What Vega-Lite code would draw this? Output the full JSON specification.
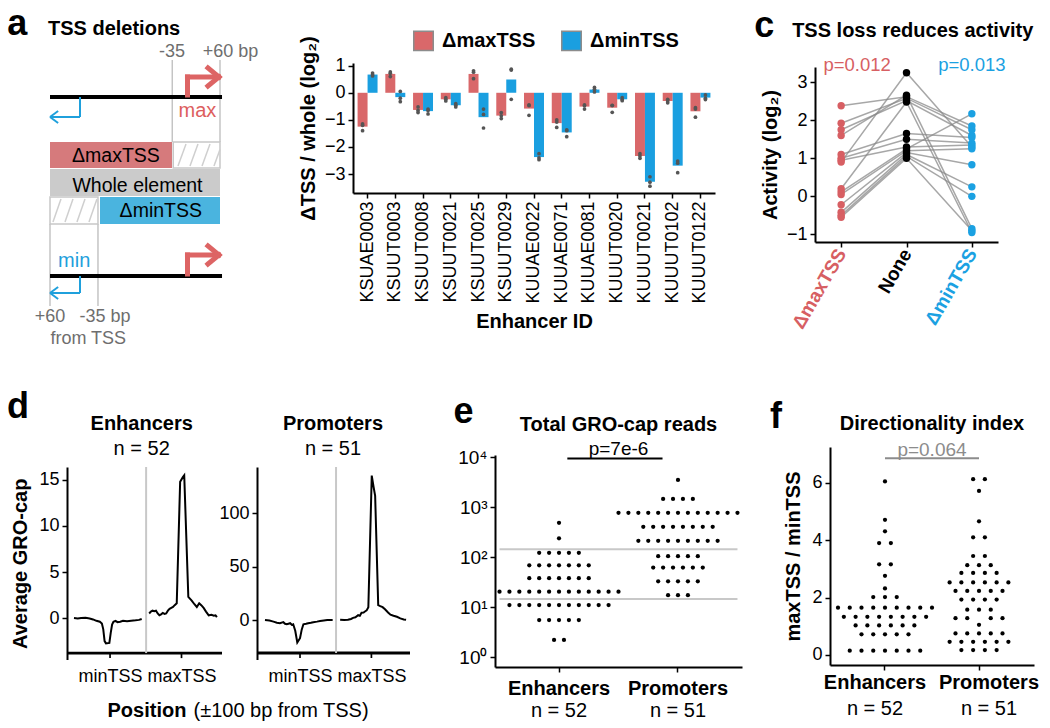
{
"$schema": "https://vega.github.io/schema/vega-lite/v6.json",
"width": 1050, "height": 728,
"autosize": {"type": "none"},
"padding": 0,
"background": "white",
"config": {
  "view": {"stroke": null},
  "font": "Liberation Sans",
  "text": {"font": "Liberation Sans"},
  "axis": {"grid": false, "domainColor": "black", "domainWidth": 2, "tickColor": "black", "tickWidth": 1.5, "tickSize": 5, "labelColor": "black", "labelFont": "Liberation Sans", "labelFontSize": 18, "titleFont": "Liberation Sans", "titleFontSize": 20, "titleFontWeight": "bold", "titleColor": "black", "labelPadding": 3, "labelOverlap": false},
  "legend": {"labelFont": "Liberation Sans"}
},
"resolve": {"scale": {"x": "independent", "y": "independent", "xOffset": "independent", "color": "independent"}, "axis": {"x": "independent", "y": "independent"}, "legend": {"color": "independent"}},
"layer": [
{
 "encoding": {
   "x": {"field": "x", "type": "quantitative", "scale": {"domain": [-375.6, 139.2], "range": [0, 260], "nice": false, "zero": false}, "axis": null},
   "y": {"field": "y", "type": "quantitative", "scale": {"domain": [0, 37], "range": [0, 370], "nice": false, "zero": false}, "axis": null}
 },
 "layer": [
  {"data": {"values": [
     {"part": "maxdel", "x": -276.6, "x2": -35, "y": 14.2, "y2": 16.8},
     {"part": "whole", "x": -276.6, "x2": 60, "y": 16.9, "y2": 19.6},
     {"part": "mindel", "x": -177.6, "x2": 60, "y": 19.7, "y2": 22.4}]},
   "mark": {"type": "rect"},
   "encoding": {"x2": {"field": "x2"}, "y2": {"field": "y2"}, "color": {"field": "part", "type": "nominal", "scale": {"domain": ["maxdel", "whole", "mindel"], "range": ["#d67a7c", "#cbcbcb", "#4ab4df"]}, "legend": null}}},
  {"data": {"values": [{"x": -32.6, "x2": 60, "y": 14.2, "y2": 16.8}, {"x": -276.6, "x2": -181.6, "y": 19.7, "y2": 22.4}]},
   "mark": {"type": "rect", "fill": "white", "stroke": "#c8c8c8", "strokeWidth": 1.5},
   "encoding": {"x2": {"field": "x2"}, "y2": {"field": "y2"}}},
  {"data": {"values": [
     {"x": -23.2, "y": 16.6, "x2": -7.3, "y2": 14.4},
     {"x": 0.6, "y": 16.6, "x2": 16.4, "y2": 14.4},
     {"x": 24.4, "y": 16.6, "x2": 40.2, "y2": 14.4},
     {"x": 48.1, "y": 16.6, "x2": 60, "y2": 14.95},
     {"x": -270.7, "y": 22.2, "x2": -254.9, "y2": 19.9},
     {"x": -246.9, "y": 22.2, "x2": -231.1, "y2": 19.9},
     {"x": -223.2, "y": 22.2, "x2": -207.3, "y2": 19.9},
     {"x": -199.4, "y": 22.2, "x2": -183.6, "y2": 19.9}]},
   "mark": {"type": "rule", "color": "#cfcfcf", "strokeWidth": 1.5},
   "encoding": {"x2": {"field": "x2"}, "y2": {"field": "y2"}}},
  {"data": {"values": [
     {"x": -34.5, "x2": -34.5, "y": 6.0, "y2": 14.2},
     {"x": 60, "x2": 60, "y": 6.0, "y2": 14.2},
     {"x": -276.6, "x2": -276.6, "y": 22.4, "y2": 30.6},
     {"x": -181.6, "x2": -181.6, "y": 22.4, "y2": 30.6}]},
   "mark": {"type": "rule", "color": "#c4c4c4", "strokeWidth": 1.5},
   "encoding": {"x2": {"field": "x2"}, "y2": {"field": "y2"}}},
  {"data": {"values": [
     {"x": -276.6, "x2": 64, "y": 9.7, "y2": 9.7},
     {"x": -276.6, "x2": 64, "y": 27.6, "y2": 27.6}]},
   "mark": {"type": "rule", "color": "black", "strokeWidth": 4},
   "encoding": {"x2": {"field": "x2"}, "y2": {"field": "y2"}}},
  {"data": {"values": [
     {"x": -4.4, "x2": -4.4, "y": 9.5, "y2": 7.7},
     {"x": -4.4, "x2": 57, "y": 7.7, "y2": 7.7},
     {"x": 36.2, "x2": 58, "y": 6.8, "y2": 7.7},
     {"x": 36.2, "x2": 58, "y": 8.6, "y2": 7.7},
     {"x": -4.4, "x2": -4.4, "y": 27.4, "y2": 25.5},
     {"x": -4.4, "x2": 57, "y": 25.5, "y2": 25.5},
     {"x": 36.2, "x2": 58, "y": 24.6, "y2": 25.5},
     {"x": 36.2, "x2": 58, "y": 26.4, "y2": 25.5}]},
   "mark": {"type": "rule", "color": "#dd6464", "strokeWidth": 5, "strokeCap": "square"},
   "encoding": {"x2": {"field": "x2"}, "y2": {"field": "y2"}}},
  {"data": {"values": [
     {"x": -217.2, "x2": -217.2, "y": 9.7, "y2": 11.7},
     {"x": -217.2, "x2": -276.6, "y": 11.7, "y2": 11.7},
     {"x": -260.5, "x2": -276.6, "y": 11.1, "y2": 11.7},
     {"x": -260.5, "x2": -276.6, "y": 12.3, "y2": 11.7},
     {"x": -217.2, "x2": -217.2, "y": 27.6, "y2": 29.3},
     {"x": -217.2, "x2": -276.6, "y": 29.3, "y2": 29.3},
     {"x": -260.5, "x2": -276.6, "y": 28.7, "y2": 29.3},
     {"x": -260.5, "x2": -276.6, "y": 29.9, "y2": 29.3}]},
   "mark": {"type": "rule", "color": "#1fa0dc", "strokeWidth": 2},
   "encoding": {"x2": {"field": "x2"}, "y2": {"field": "y2"}}},
  {"data": {"values": [{"x": -361, "y": 3.5, "t": "a"}]},
   "mark": {"type": "text", "fontSize": 36, "fontWeight": "bold", "align": "left", "baseline": "alphabetic", "color": "black"},
   "encoding": {"text": {"field": "t"}}},
  {"data": {"values": [{"x": -280.6, "y": 3.5, "t": "TSS deletions"}]},
   "mark": {"type": "text", "fontSize": 20, "fontWeight": "bold", "align": "left", "baseline": "alphabetic", "color": "black"},
   "encoding": {"text": {"field": "t"}}},
  {"data": {"values": [
     {"x": -35, "y": 5.67, "t": "-35"},
     {"x": 80.8, "y": 5.67, "t": "+60 bp"},
     {"x": -276.6, "y": 32.2, "t": "+60"},
     {"x": -167.7, "y": 32.2, "t": "-35 bp"},
     {"x": -200.8, "y": 34.4, "t": "from TSS"}]},
   "mark": {"type": "text", "fontSize": 18, "align": "center", "baseline": "alphabetic", "color": "#6e6e6e"},
   "encoding": {"text": {"field": "t"}}},
  {"data": {"values": [{"x": 15.4, "y": 11.67, "t": "max"}]},
   "mark": {"type": "text", "fontSize": 20, "align": "center", "baseline": "alphabetic", "color": "#dd5e5e"},
   "encoding": {"text": {"field": "t"}}},
  {"data": {"values": [{"x": -228.7, "y": 26.7, "t": "min"}]},
   "mark": {"type": "text", "fontSize": 20, "align": "center", "baseline": "alphabetic", "color": "#1fa0dc"},
   "encoding": {"text": {"field": "t"}}},
  {"data": {"values": [
     {"x": -146, "y": 16.2, "t": "ΔmaxTSS"},
     {"x": -103.4, "y": 19.15, "t": "Whole element"},
     {"x": -57.2, "y": 21.7, "t": "ΔminTSS"}]},
   "mark": {"type": "text", "fontSize": 19.5, "align": "center", "baseline": "alphabetic", "color": "black"},
   "encoding": {"text": {"field": "t"}}}
 ]
},
{
 "data": {"values": [
  {"id":"KSUAE0003","c":"ΔmaxTSS","v":-1.15},{"id":"KSUAE0003","c":"ΔmaxTSS","v":-1.2},{"id":"KSUAE0003","c":"ΔmaxTSS","v":-1.4},
  {"id":"KSUAE0003","c":"ΔminTSS","v":0.73},{"id":"KSUAE0003","c":"ΔminTSS","v":0.67},{"id":"KSUAE0003","c":"ΔminTSS","v":0.62},
  {"id":"KSUUT0003","c":"ΔmaxTSS","v":0.77},{"id":"KSUUT0003","c":"ΔmaxTSS","v":0.72},{"id":"KSUUT0003","c":"ΔmaxTSS","v":0.6},
  {"id":"KSUUT0003","c":"ΔminTSS","v":0.05},{"id":"KSUUT0003","c":"ΔminTSS","v":-0.2},{"id":"KSUUT0003","c":"ΔminTSS","v":-0.33},
  {"id":"KSUUT0008","c":"ΔmaxTSS","v":-0.52},{"id":"KSUUT0008","c":"ΔmaxTSS","v":-0.65},{"id":"KSUUT0008","c":"ΔmaxTSS","v":-0.73},
  {"id":"KSUUT0008","c":"ΔminTSS","v":-0.6},{"id":"KSUUT0008","c":"ΔminTSS","v":-0.65},{"id":"KSUUT0008","c":"ΔminTSS","v":-0.78},
  {"id":"KSUUT0021","c":"ΔmaxTSS","v":-0.18},{"id":"KSUUT0021","c":"ΔmaxTSS","v":-0.24},{"id":"KSUUT0021","c":"ΔmaxTSS","v":-0.3},
  {"id":"KSUUT0021","c":"ΔminTSS","v":-0.4},{"id":"KSUUT0021","c":"ΔminTSS","v":-0.46},{"id":"KSUUT0021","c":"ΔminTSS","v":-0.52},
  {"id":"KSUUT0025","c":"ΔmaxTSS","v":0.81},{"id":"KSUUT0025","c":"ΔmaxTSS","v":0.76},{"id":"KSUUT0025","c":"ΔmaxTSS","v":0.52},
  {"id":"KSUUT0025","c":"ΔminTSS","v":-0.6},{"id":"KSUUT0025","c":"ΔminTSS","v":-0.8},{"id":"KSUUT0025","c":"ΔminTSS","v":-1.3},
  {"id":"KSUUT0029","c":"ΔmaxTSS","v":-0.73},{"id":"KSUUT0029","c":"ΔmaxTSS","v":-0.85},{"id":"KSUUT0029","c":"ΔmaxTSS","v":-0.95},
  {"id":"KSUUT0029","c":"ΔminTSS","v":0.87},{"id":"KSUUT0029","c":"ΔminTSS","v":0.84},{"id":"KSUUT0029","c":"ΔminTSS","v":-0.24},
  {"id":"KUUAE0022","c":"ΔmaxTSS","v":-0.45},{"id":"KUUAE0022","c":"ΔmaxTSS","v":-0.47},{"id":"KUUAE0022","c":"ΔmaxTSS","v":-0.83},
  {"id":"KUUAE0022","c":"ΔminTSS","v":-2.25},{"id":"KUUAE0022","c":"ΔminTSS","v":-2.4},{"id":"KUUAE0022","c":"ΔminTSS","v":-2.47},
  {"id":"KUUAE0071","c":"ΔmaxTSS","v":-1.0},{"id":"KUUAE0071","c":"ΔmaxTSS","v":-1.08},{"id":"KUUAE0071","c":"ΔmaxTSS","v":-1.28},
  {"id":"KUUAE0071","c":"ΔminTSS","v":-1.37},{"id":"KUUAE0071","c":"ΔminTSS","v":-1.4},{"id":"KUUAE0071","c":"ΔminTSS","v":-1.62},
  {"id":"KUUAE0081","c":"ΔmaxTSS","v":-0.45},{"id":"KUUAE0081","c":"ΔmaxTSS","v":-0.48},{"id":"KUUAE0081","c":"ΔmaxTSS","v":-0.6},
  {"id":"KUUAE0081","c":"ΔminTSS","v":0.2},{"id":"KUUAE0081","c":"ΔminTSS","v":0.13},{"id":"KUUAE0081","c":"ΔminTSS","v":0.03},
  {"id":"KUUUT0020","c":"ΔmaxTSS","v":-0.46},{"id":"KUUUT0020","c":"ΔmaxTSS","v":-0.47},{"id":"KUUUT0020","c":"ΔmaxTSS","v":-0.72},
  {"id":"KUUUT0020","c":"ΔminTSS","v":-0.18},{"id":"KUUUT0020","c":"ΔminTSS","v":-0.25},{"id":"KUUUT0020","c":"ΔminTSS","v":-0.29},
  {"id":"KUUUT0021","c":"ΔmaxTSS","v":-2.25},{"id":"KUUUT0021","c":"ΔmaxTSS","v":-2.33},{"id":"KUUUT0021","c":"ΔmaxTSS","v":-2.42},
  {"id":"KUUUT0021","c":"ΔminTSS","v":-3.1},{"id":"KUUUT0021","c":"ΔminTSS","v":-3.3},{"id":"KUUUT0021","c":"ΔminTSS","v":-3.45},
  {"id":"KUUUT0102","c":"ΔmaxTSS","v":-0.24},{"id":"KUUUT0102","c":"ΔmaxTSS","v":-0.3},{"id":"KUUUT0102","c":"ΔmaxTSS","v":-0.37},
  {"id":"KUUUT0102","c":"ΔminTSS","v":-2.52},{"id":"KUUUT0102","c":"ΔminTSS","v":-2.6},{"id":"KUUUT0102","c":"ΔminTSS","v":-2.95},
  {"id":"KUUUT0122","c":"ΔmaxTSS","v":-0.55},{"id":"KUUUT0122","c":"ΔmaxTSS","v":-0.6},{"id":"KUUUT0122","c":"ΔmaxTSS","v":-0.9},
  {"id":"KUUUT0122","c":"ΔminTSS","v":-0.08},{"id":"KUUUT0122","c":"ΔminTSS","v":-0.2},{"id":"KUUUT0122","c":"ΔminTSS","v":-0.25}
 ]},
 "encoding": {
  "x": {"field": "id", "type": "nominal", "sort": null, "scale": {"range": [353, 715], "paddingInner": 0.28, "paddingOuter": 0.165}, "axis": {"orient": "bottom", "offset": -535, "labelAngle": -90, "title": "Enhancer ID", "titlePadding": 8, "labelPadding": 3}},
  "xOffset": {"field": "c", "type": "nominal", "scale": {"domain": ["ΔmaxTSS", "ΔminTSS"]}},
  "y": {"field": "v", "type": "quantitative", "scale": {"domain": [-3.7, 1.1], "range": [193, 63], "nice": false}, "axis": {"orient": "left", "offset": -353, "values": [-3, -2, -1, 0, 1], "title": "ΔTSS / whole (log₂)", "titlePadding": 6}}
 },
 "layer": [
  {"mark": {"type": "bar"},
   "encoding": {
    "y": {"aggregate": "mean", "field": "v", "type": "quantitative", "scale": {"domain": [-3.7, 1.1], "range": [193, 63], "nice": false}, "axis": {"orient": "left", "offset": -353, "values": [-3, -2, -1, 0, 1], "title": "ΔTSS / whole (log₂)", "titlePadding": 6}},
    "color": {"field": "c", "type": "nominal", "scale": {"domain": ["ΔmaxTSS", "ΔminTSS"], "range": ["#d9686a", "#1a9fe0"]},
      "legend": {"orient": "none", "legendX": 413, "legendY": 30, "direction": "horizontal", "title": null, "symbolType": "square", "symbolSize": 380, "symbolStrokeColor": "#8c8c8c", "symbolStrokeWidth": 1.5, "symbolOpacity": 1, "labelFontSize": 20, "labelFontWeight": "bold", "labelColor": "black", "labelOffset": 8, "columnPadding": 22, "padding": 0}}
   }},
  {"mark": {"type": "circle", "size": 14, "color": "#555555", "opacity": 1}}
 ]
},
{
 "data": {"values": [
  {"el":1,"c":"ΔmaxTSS","v":2.38},{"el":1,"c":"None","v":2.62},{"el":1,"c":"ΔminTSS","v":1.85},
  {"el":2,"c":"ΔmaxTSS","v":1.92},{"el":2,"c":"None","v":2.58},{"el":2,"c":"ΔminTSS","v":1.75},
  {"el":3,"c":"ΔmaxTSS","v":1.75},{"el":3,"c":"None","v":2.52},{"el":3,"c":"ΔminTSS","v":1.6},
  {"el":4,"c":"ΔmaxTSS","v":1.6},{"el":4,"c":"None","v":2.66},{"el":4,"c":"ΔminTSS","v":-0.85},
  {"el":5,"c":"ΔmaxTSS","v":1.1},{"el":5,"c":"None","v":1.65},{"el":5,"c":"ΔminTSS","v":1.55},
  {"el":6,"c":"ΔmaxTSS","v":1.0},{"el":6,"c":"None","v":1.5},{"el":6,"c":"ΔminTSS","v":1.4},
  {"el":7,"c":"ΔmaxTSS","v":0.95},{"el":7,"c":"None","v":1.3},{"el":7,"c":"ΔminTSS","v":1.35},
  {"el":8,"c":"ΔmaxTSS","v":0.9},{"el":8,"c":"None","v":3.25},{"el":8,"c":"ΔminTSS","v":1.3},
  {"el":9,"c":"ΔmaxTSS","v":0.2},{"el":9,"c":"None","v":2.48},{"el":9,"c":"ΔminTSS","v":-0.95},
  {"el":10,"c":"ΔmaxTSS","v":0.12},{"el":10,"c":"None","v":1.25},{"el":10,"c":"ΔminTSS","v":2.17},
  {"el":11,"c":"ΔmaxTSS","v":0.05},{"el":11,"c":"None","v":1.2},{"el":11,"c":"ΔminTSS","v":1.25},
  {"el":12,"c":"ΔmaxTSS","v":-0.22},{"el":12,"c":"None","v":1.15},{"el":12,"c":"ΔminTSS","v":0.83},
  {"el":13,"c":"ΔmaxTSS","v":-0.42},{"el":13,"c":"None","v":1.1},{"el":13,"c":"ΔminTSS","v":0.25},
  {"el":14,"c":"ΔmaxTSS","v":-0.5},{"el":14,"c":"None","v":1.05},{"el":14,"c":"ΔminTSS","v":0.0},
  {"el":15,"c":"ΔmaxTSS","v":-0.55},{"el":15,"c":"None","v":1.0},{"el":15,"c":"ΔminTSS","v":-0.9}
 ]},
 "encoding": {
  "x": {"field": "c", "type": "nominal", "sort": ["ΔmaxTSS", "None", "ΔminTSS"], "scale": {"type": "point", "domain": ["ΔmaxTSS", "None", "ΔminTSS"], "range": [815, 998], "padding": 0.4},
        "axis": {"orient": "bottom", "offset": -486, "labelAngle": -60, "labelFontWeight": "bold", "labelFontSize": 19, "title": null, "labelPadding": 3,
                 "labelColor": {"condition": [{"test": "datum.value === 'ΔmaxTSS'", "value": "#d75f63"}, {"test": "datum.value === 'ΔminTSS'", "value": "#1ba1e2"}], "value": "black"}}},
  "y": {"field": "v", "type": "quantitative", "scale": {"domain": [-1.2, 3.4], "range": [242, 67], "nice": false, "zero": false}, "axis": {"orient": "left", "offset": -815, "values": [-1, 0, 1, 2, 3], "title": "Activity (log₂)", "titlePadding": 6}}
 },
 "layer": [
  {"mark": {"type": "line", "color": "#8a8a8a", "strokeWidth": 1.5, "opacity": 0.75}, "encoding": {"detail": {"field": "el", "type": "nominal"}}},
  {"mark": {"type": "circle", "size": 55, "opacity": 1}, "encoding": {"color": {"field": "c", "type": "nominal", "scale": {"domain": ["ΔmaxTSS", "None", "ΔminTSS"], "range": ["#d75f63", "black", "#1ba1e2"]}, "legend": null}}},
  {"data": {"values": [{"c": "ΔmaxTSS", "v": 3.45, "label": "p=0.012"}]}, "mark": {"type": "text", "fontSize": 18.5, "baseline": "middle", "dx": 16, "color": "#d75f63"}, "encoding": {"text": {"field": "label"}}},
  {"data": {"values": [{"c": "ΔminTSS", "v": 3.45, "label": "p=0.013"}]}, "mark": {"type": "text", "fontSize": 18.5, "baseline": "middle", "dx": 0, "color": "#1ba1e2"}, "encoding": {"text": {"field": "label"}}},
  {"data": {"values": [{"c": "ΔmaxTSS", "v": 4.19, "label": "TSS loss reduces activity"}]}, "mark": {"type": "text", "fontSize": 20, "fontWeight": "bold", "align": "left", "baseline": "alphabetic", "dx": -49, "color": "black"}, "encoding": {"text": {"field": "label"}}},
  {"data": {"values": [{"c": "ΔmaxTSS", "v": 4.19, "label": "c"}]}, "mark": {"type": "text", "fontSize": 36, "fontWeight": "bold", "align": "left", "baseline": "alphabetic", "dx": -87, "color": "black"}, "encoding": {"text": {"field": "label"}}}
 ]
},
{
 "layer": [
  {"data": {"values": [
     {"pos": -126.5, "pos2": 329, "v": -3.95, "v2": -3.65},
     {"pos": -2.5, "pos2": 2.5, "v": -3.8, "v2": -4.35},
     {"pos": 207.5, "pos2": 212.5, "v": -3.8, "v2": -4.35}]},
   "mark": {"type": "rect", "color": "black"},
   "encoding": {
    "x": {"field": "pos", "type": "quantitative", "scale": {"domain": [-126.5, 329], "range": [67, 222], "nice": false, "zero": false}, "axis": null},
    "x2": {"field": "pos2"},
    "y": {"field": "v", "type": "quantitative", "scale": {"domain": [-4.5, 16.4], "range": [659.5, 467], "nice": false, "zero": false}, "axis": null},
    "y2": {"field": "v2"}}},
  {"data": {"values": [
    {"seg":"min","pos":-106,"v":0.0},{"seg":"min","pos":-95,"v":-0.05},{"seg":"min","pos":-85,"v":0.0},{"seg":"min","pos":-72,"v":0.02},{"seg":"min","pos":-60,"v":-0.05},
    {"seg":"min","pos":-50,"v":-0.15},{"seg":"min","pos":-40,"v":-0.3},{"seg":"min","pos":-30,"v":-0.4},{"seg":"min","pos":-24,"v":-0.6},{"seg":"min","pos":-20,"v":-1.2},
    {"seg":"min","pos":-16,"v":-2.5},{"seg":"min","pos":-12,"v":-2.75},{"seg":"min","pos":-2,"v":-2.7},{"seg":"min","pos":2,"v":-1.6},{"seg":"min","pos":6,"v":-0.7},
    {"seg":"min","pos":10,"v":-0.4},{"seg":"min","pos":16,"v":-0.3},{"seg":"min","pos":22,"v":-0.45},{"seg":"min","pos":30,"v":-0.4},{"seg":"min","pos":38,"v":-0.3},
    {"seg":"min","pos":50,"v":-0.35},{"seg":"min","pos":62,"v":-0.3},{"seg":"min","pos":75,"v":-0.25},{"seg":"min","pos":85,"v":-0.2},{"seg":"min","pos":93,"v":-0.1},
    {"seg":"max","pos":115,"v":0.5},{"seg":"max","pos":120,"v":0.7},{"seg":"max","pos":125,"v":0.8},{"seg":"max","pos":130,"v":0.75},{"seg":"max","pos":135,"v":0.8},
    {"seg":"max","pos":140,"v":0.5},{"seg":"max","pos":145,"v":0.3},{"seg":"max","pos":150,"v":0.4},{"seg":"max","pos":155,"v":0.55},{"seg":"max","pos":160,"v":0.45},
    {"seg":"max","pos":165,"v":0.5},{"seg":"max","pos":170,"v":0.8},{"seg":"max","pos":175,"v":1.0},{"seg":"max","pos":180,"v":1.1},{"seg":"max","pos":185,"v":1.2},
    {"seg":"max","pos":190,"v":1.4},{"seg":"max","pos":196,"v":1.6},{"seg":"max","pos":206,"v":14.8},{"seg":"max","pos":214,"v":15.3},{"seg":"max","pos":218,"v":15.5},
    {"seg":"max","pos":230,"v":2.3},{"seg":"max","pos":240,"v":1.9},{"seg":"max","pos":248,"v":1.5},{"seg":"max","pos":255,"v":1.2},{"seg":"max","pos":262,"v":1.6},
    {"seg":"max","pos":268,"v":1.4},{"seg":"max","pos":275,"v":1.1},{"seg":"max","pos":282,"v":0.7},{"seg":"max","pos":290,"v":0.3},{"seg":"max","pos":298,"v":0.35},
    {"seg":"max","pos":305,"v":0.25},{"seg":"max","pos":310,"v":0.3},{"seg":"max","pos":314,"v":0.1}
   ]},
   "mark": {"type": "line", "color": "black", "strokeWidth": 2},
   "encoding": {
    "x": {"field": "pos", "type": "quantitative", "scale": {"domain": [-126.5, 329], "range": [67, 222], "nice": false, "zero": false},
          "axis": {"orient": "bottom", "offset": -75, "values": [0, 210], "labelExpr": "datum.value == 0 ? 'minTSS' : 'maxTSS'", "labelPadding": 14, "title": null, "domain": false, "ticks": false}},
    "y": {"field": "v", "type": "quantitative", "scale": {"domain": [-4.5, 16.4], "range": [659.5, 467], "nice": false, "zero": false},
          "axis": {"orient": "left", "offset": -67, "values": [0, 5, 10, 15], "title": "Average GRO-cap", "titlePadding": 8}},
    "detail": {"field": "seg", "type": "nominal"}}},
  {"data": {"values": [{"pos": 106, "v": -3.8, "v2": 16.4}]}, "mark": {"type": "rule", "color": "#c8c8c8", "strokeWidth": 2},
   "encoding": {
    "x": {"field": "pos", "type": "quantitative", "scale": {"domain": [-126.5, 329], "range": [67, 222], "nice": false, "zero": false},
          "axis": {"orient": "bottom", "offset": -75, "domain": false, "ticks": false, "labels": false, "title": "Position", "titleX": 107, "titleAlign": "left", "titleBaseline": "top", "titlePadding": 47}},
    "y": {"field": "v", "type": "quantitative", "scale": {"domain": [-4.5, 16.4], "range": [659.5, 467], "nice": false, "zero": false}, "axis": null},
    "y2": {"field": "v2"}}},
  {"data": {"values": [{"pos": 93, "v": 20.4, "label": "Enhancers"}]}, "mark": {"type": "text", "fontSize": 20, "fontWeight": "bold", "align": "center", "baseline": "alphabetic", "color": "black"},
   "encoding": {"x": {"field": "pos", "type": "quantitative", "scale": {"domain": [-126.5, 329], "range": [67, 222], "nice": false, "zero": false}, "axis": null}, "y": {"field": "v", "type": "quantitative", "scale": {"domain": [-4.5, 16.4], "range": [659.5, 467], "nice": false, "zero": false}, "axis": null}, "text": {"field": "label"}}},
  {"data": {"values": [{"pos": 93, "v": 17.7, "label": "n = 52"}]}, "mark": {"type": "text", "fontSize": 20, "align": "center", "baseline": "alphabetic", "color": "black"},
   "encoding": {"x": {"field": "pos", "type": "quantitative", "scale": {"domain": [-126.5, 329], "range": [67, 222], "nice": false, "zero": false}, "axis": null}, "y": {"field": "v", "type": "quantitative", "scale": {"domain": [-4.5, 16.4], "range": [659.5, 467], "nice": false, "zero": false}, "axis": null}, "text": {"field": "label"}}},
  {"data": {"values": [{"pos": -303, "v": 21.7, "label": "d"}]}, "mark": {"type": "text", "fontSize": 36, "fontWeight": "bold", "align": "left", "baseline": "alphabetic", "color": "black"},
   "encoding": {"x": {"field": "pos", "type": "quantitative", "scale": {"domain": [-126.5, 329], "range": [67, 222], "nice": false, "zero": false}, "axis": null}, "y": {"field": "v", "type": "quantitative", "scale": {"domain": [-4.5, 16.4], "range": [659.5, 467], "nice": false, "zero": false}, "axis": null}, "text": {"field": "label"}}}
 ],
 "resolve": {"axis": {"x": "independent", "y": "independent"}}
},
{
 "layer": [
  {"data": {"values": [
     {"pos": -126.5, "pos2": 323.5, "v": -32.2, "v2": -29.4},
     {"pos": -2.5, "pos2": 2.5, "v": -30.8, "v2": -35.5},
     {"pos": 207.5, "pos2": 212.5, "v": -30.8, "v2": -35.5}]},
   "mark": {"type": "rect", "color": "black"},
   "encoding": {
    "x": {"field": "pos", "type": "quantitative", "scale": {"domain": [-126.5, 323.5], "range": [257, 410], "nice": false, "zero": false}, "axis": null},
    "x2": {"field": "pos2"},
    "y": {"field": "v", "type": "quantitative", "scale": {"domain": [-36.9, 143], "range": [659.5, 467], "nice": false, "zero": false}, "axis": null},
    "y2": {"field": "v2"}}},
  {"data": {"values": [
    {"seg":"min","pos":-103,"v":0},{"seg":"min","pos":-90,"v":-0.5},{"seg":"min","pos":-78,"v":-1.5},{"seg":"min","pos":-68,"v":-2.5},{"seg":"min","pos":-59,"v":-3},
    {"seg":"min","pos":-49,"v":-2},{"seg":"min","pos":-44,"v":-3.5},{"seg":"min","pos":-39,"v":-4},{"seg":"min","pos":-34,"v":-3.5},{"seg":"min","pos":-29,"v":-3},
    {"seg":"min","pos":-24,"v":-4.5},{"seg":"min","pos":-20,"v":-4},{"seg":"min","pos":-14,"v":-10},{"seg":"min","pos":-8,"v":-21},{"seg":"min","pos":0,"v":-17},
    {"seg":"min","pos":5,"v":-9},{"seg":"min","pos":10,"v":-4},{"seg":"min","pos":18,"v":-3.5},{"seg":"min","pos":24,"v":-3},{"seg":"min","pos":32,"v":-2.5},
    {"seg":"min","pos":39,"v":-2},{"seg":"min","pos":50,"v":-1.5},{"seg":"min","pos":59,"v":-1},{"seg":"min","pos":70,"v":-0.5},{"seg":"min","pos":80,"v":0},{"seg":"min","pos":96,"v":0},
    {"seg":"max","pos":118,"v":0.3},{"seg":"max","pos":130,"v":0},{"seg":"max","pos":141,"v":0.2},{"seg":"max","pos":150,"v":1},{"seg":"max","pos":156,"v":2},
    {"seg":"max","pos":163,"v":2.5},{"seg":"max","pos":171,"v":4.5},{"seg":"max","pos":176,"v":4},{"seg":"max","pos":181,"v":6.8},{"seg":"max","pos":187,"v":7},
    {"seg":"max","pos":191,"v":8},{"seg":"max","pos":196,"v":9},{"seg":"max","pos":201,"v":12},{"seg":"max","pos":211,"v":135},{"seg":"max","pos":216,"v":125},
    {"seg":"max","pos":221,"v":116},{"seg":"max","pos":230,"v":14},{"seg":"max","pos":236,"v":13},{"seg":"max","pos":243,"v":12},{"seg":"max","pos":250,"v":10},
    {"seg":"max","pos":259,"v":7},{"seg":"max","pos":266,"v":5},{"seg":"max","pos":275,"v":4},{"seg":"max","pos":285,"v":3},{"seg":"max","pos":295,"v":1.5},
    {"seg":"max","pos":305,"v":0.5},{"seg":"max","pos":312,"v":0.2}
   ]},
   "mark": {"type": "line", "color": "black", "strokeWidth": 2},
   "encoding": {
    "x": {"field": "pos", "type": "quantitative", "scale": {"domain": [-126.5, 323.5], "range": [257, 410], "nice": false, "zero": false},
          "axis": {"orient": "bottom", "offset": -75, "values": [0, 210], "labelExpr": "datum.value == 0 ? 'minTSS' : 'maxTSS'", "labelPadding": 14, "title": null, "domain": false, "ticks": false}},
    "y": {"field": "v", "type": "quantitative", "scale": {"domain": [-36.9, 143], "range": [659.5, 467], "nice": false, "zero": false},
          "axis": {"orient": "left", "offset": -257, "values": [0, 50, 100], "title": null}},
    "detail": {"field": "seg", "type": "nominal"}}},
  {"data": {"values": [{"pos": 106, "v": -30.8, "v2": 143}]}, "mark": {"type": "rule", "color": "#c8c8c8", "strokeWidth": 2},
   "encoding": {
    "x": {"field": "pos", "type": "quantitative", "scale": {"domain": [-126.5, 323.5], "range": [257, 410], "nice": false, "zero": false},
          "axis": {"orient": "bottom", "offset": -75, "domain": false, "ticks": false, "labels": false, "title": "(±100 bp from TSS)", "titleFontWeight": "normal", "titleX": 193, "titleAlign": "left", "titleBaseline": "top", "titlePadding": 47}},
    "y": {"field": "v", "type": "quantitative", "scale": {"domain": [-36.9, 143], "range": [659.5, 467], "nice": false, "zero": false}, "axis": null},
    "y2": {"field": "v2"}}},
  {"data": {"values": [{"pos": 97, "v": 177.6, "label": "Promoters"}]}, "mark": {"type": "text", "fontSize": 20, "fontWeight": "bold", "align": "center", "baseline": "alphabetic", "color": "black"},
   "encoding": {"x": {"field": "pos", "type": "quantitative", "scale": {"domain": [-126.5, 323.5], "range": [257, 410], "nice": false, "zero": false}, "axis": null}, "y": {"field": "v", "type": "quantitative", "scale": {"domain": [-36.9, 143], "range": [659.5, 467], "nice": false, "zero": false}, "axis": null}, "text": {"field": "label"}}},
  {"data": {"values": [{"pos": 97, "v": 154.2, "label": "n = 51"}]}, "mark": {"type": "text", "fontSize": 20, "align": "center", "baseline": "alphabetic", "color": "black"},
   "encoding": {"x": {"field": "pos", "type": "quantitative", "scale": {"domain": [-126.5, 323.5], "range": [257, 410], "nice": false, "zero": false}, "axis": null}, "y": {"field": "v", "type": "quantitative", "scale": {"domain": [-36.9, 143], "range": [659.5, 467], "nice": false, "zero": false}, "axis": null}, "text": {"field": "label"}}}
 ],
 "resolve": {"axis": {"x": "independent", "y": "independent"}}
},
{
 "layer": [
  {"data": {"values": [{"m": 145}, {"m": 14.5}]},
   "mark": {"type": "rule", "color": "#c8c8c8", "strokeWidth": 2},
   "encoding": {
    "x": {"datum": "Enhancers", "type": "nominal", "bandPosition": 0, "scale": {"domain": ["Enhancers", "Promoters"], "range": [495, 742], "paddingInner": 0, "paddingOuter": 0.038},
          "axis": {"orient": "bottom", "offset": -61, "domain": false, "ticks": false, "labelAngle": 0, "labelPadding": 33, "labelFontSize": 20, "labelExpr": "datum.value == 'Enhancers' ? 'n = 52' : 'n = 51'", "title": null}},
    "x2": {"datum": "Promoters", "bandPosition": 1},
    "y": {"field": "m", "type": "quantitative", "scale": {"type": "log", "domain": [0.631, 11220], "range": [667, 455], "nice": false}, "axis": null}
   }},
  {"data": {"values": [
    {"g":"Enhancers","v":490,"s":0},{"g":"Enhancers","v":240,"s":0},
    {"g":"Enhancers","v":123,"s":-2},{"g":"Enhancers","v":123,"s":-1},{"g":"Enhancers","v":123,"s":0},{"g":"Enhancers","v":123,"s":1},{"g":"Enhancers","v":123,"s":2},
    {"g":"Enhancers","v":69,"s":-3},{"g":"Enhancers","v":69,"s":-2},{"g":"Enhancers","v":69,"s":-1},{"g":"Enhancers","v":69,"s":0},{"g":"Enhancers","v":69,"s":1},{"g":"Enhancers","v":69,"s":2},{"g":"Enhancers","v":69,"s":3},
    {"g":"Enhancers","v":38,"s":-3},{"g":"Enhancers","v":38,"s":-2},{"g":"Enhancers","v":38,"s":-1},{"g":"Enhancers","v":38,"s":0},{"g":"Enhancers","v":38,"s":1},{"g":"Enhancers","v":38,"s":2},{"g":"Enhancers","v":38,"s":3},
    {"g":"Enhancers","v":20.4,"s":-6},{"g":"Enhancers","v":20.4,"s":-5},{"g":"Enhancers","v":20.4,"s":-4},{"g":"Enhancers","v":20.4,"s":-3},{"g":"Enhancers","v":20.4,"s":-2},{"g":"Enhancers","v":20.4,"s":-1},{"g":"Enhancers","v":20.4,"s":0},
    {"g":"Enhancers","v":20.4,"s":1},{"g":"Enhancers","v":20.4,"s":2},{"g":"Enhancers","v":20.4,"s":3},{"g":"Enhancers","v":20.4,"s":4},{"g":"Enhancers","v":20.4,"s":5},{"g":"Enhancers","v":20.4,"s":6},
    {"g":"Enhancers","v":11,"s":-5},{"g":"Enhancers","v":11,"s":-4},{"g":"Enhancers","v":11,"s":-3},{"g":"Enhancers","v":11,"s":-2},{"g":"Enhancers","v":11,"s":-1},{"g":"Enhancers","v":11,"s":0},
    {"g":"Enhancers","v":11,"s":1},{"g":"Enhancers","v":11,"s":2},{"g":"Enhancers","v":11,"s":3},{"g":"Enhancers","v":11,"s":4},{"g":"Enhancers","v":11,"s":5},
    {"g":"Enhancers","v":5.5,"s":-2},{"g":"Enhancers","v":5.5,"s":-1},{"g":"Enhancers","v":5.5,"s":0},{"g":"Enhancers","v":5.5,"s":1},{"g":"Enhancers","v":5.5,"s":2},
    {"g":"Enhancers","v":2.2,"s":-0.5},{"g":"Enhancers","v":2.2,"s":0.5},
    {"g":"Promoters","v":3548,"s":0},
    {"g":"Promoters","v":1479,"s":-1.5},{"g":"Promoters","v":1479,"s":-0.5},{"g":"Promoters","v":1479,"s":0.5},{"g":"Promoters","v":1479,"s":1.5},
    {"g":"Promoters","v":776,"s":-6},{"g":"Promoters","v":776,"s":-5},{"g":"Promoters","v":776,"s":-4},{"g":"Promoters","v":776,"s":-3},{"g":"Promoters","v":776,"s":-2},{"g":"Promoters","v":776,"s":-1},{"g":"Promoters","v":776,"s":0},
    {"g":"Promoters","v":776,"s":1},{"g":"Promoters","v":776,"s":2},{"g":"Promoters","v":776,"s":3},{"g":"Promoters","v":776,"s":4},{"g":"Promoters","v":776,"s":5},{"g":"Promoters","v":776,"s":6},
    {"g":"Promoters","v":407,"s":-3.5},{"g":"Promoters","v":407,"s":-2.5},{"g":"Promoters","v":407,"s":-1.5},{"g":"Promoters","v":407,"s":-0.5},{"g":"Promoters","v":407,"s":0.5},{"g":"Promoters","v":407,"s":1.5},{"g":"Promoters","v":407,"s":2.5},{"g":"Promoters","v":407,"s":3.5},
    {"g":"Promoters","v":214,"s":-4},{"g":"Promoters","v":214,"s":-3},{"g":"Promoters","v":214,"s":-2},{"g":"Promoters","v":214,"s":-1},{"g":"Promoters","v":214,"s":0},{"g":"Promoters","v":214,"s":1},{"g":"Promoters","v":214,"s":2},{"g":"Promoters","v":214,"s":3},{"g":"Promoters","v":214,"s":4},
    {"g":"Promoters","v":105,"s":-2},{"g":"Promoters","v":105,"s":-1},{"g":"Promoters","v":105,"s":0},{"g":"Promoters","v":105,"s":1},{"g":"Promoters","v":105,"s":2},
    {"g":"Promoters","v":62,"s":-2.5},{"g":"Promoters","v":62,"s":-1.5},{"g":"Promoters","v":62,"s":-0.5},{"g":"Promoters","v":62,"s":0.5},{"g":"Promoters","v":62,"s":1.5},{"g":"Promoters","v":62,"s":2.5},
    {"g":"Promoters","v":33,"s":-2},{"g":"Promoters","v":33,"s":-1},{"g":"Promoters","v":33,"s":0},{"g":"Promoters","v":33,"s":1},{"g":"Promoters","v":33,"s":2},
    {"g":"Promoters","v":17.4,"s":-1},{"g":"Promoters","v":17.4,"s":0},{"g":"Promoters","v":17.4,"s":1}
   ]},
   "mark": {"type": "circle", "size": 18, "color": "black", "opacity": 1},
   "encoding": {
    "x": {"field": "g", "type": "nominal", "scale": {"domain": ["Enhancers", "Promoters"], "range": [495, 742], "paddingInner": 0, "paddingOuter": 0.038},
          "axis": {"orient": "bottom", "offset": -61, "labelAngle": 0, "labelFontWeight": "bold", "labelFontSize": 20, "labelPadding": 6, "title": null}},
    "xOffset": {"field": "s", "type": "ordinal", "scale": {"domain": [-6,-5.5,-5,-4.5,-4,-3.5,-3,-2.5,-2,-1.5,-1,-0.5,0,0.5,1,1.5,2,2.5,3,3.5,4,4.5,5,5.5,6], "paddingInner": 0, "paddingOuter": 0}},
    "y": {"field": "v", "type": "quantitative", "scale": {"type": "log", "domain": [0.631, 11220], "range": [667, 455], "nice": false},
          "axis": {"orient": "left", "offset": -495, "values": [1, 10, 100, 1000, 10000], "labelFontSize": 19, "title": null,
                   "labelExpr": "datum.value == 1 ? '10⁰' : datum.value == 10 ? '10¹' : datum.value == 100 ? '10²' : datum.value == 1000 ? '10³' : '10⁴'"}}
   }},
  {"data": {"values": [{"m": 9550}]},
   "mark": {"type": "rule", "color": "black", "strokeWidth": 2},
   "encoding": {
    "x": {"datum": "Enhancers", "type": "nominal", "bandPosition": 0.57, "scale": {"domain": ["Enhancers", "Promoters"], "range": [495, 742], "paddingInner": 0, "paddingOuter": 0.038}, "axis": null},
    "x2": {"datum": "Promoters", "bandPosition": 0.37},
    "y": {"field": "m", "type": "quantitative", "scale": {"type": "log", "domain": [0.631, 11220], "range": [667, 455], "nice": false}, "axis": null}
   }},
  {"data": {"values": [{"m": 15136, "label": "p=7e-6"}]},
   "mark": {"type": "text", "fontSize": 19, "baseline": "middle", "align": "center", "color": "black"},
   "encoding": {
    "x": {"datum": "Enhancers", "type": "nominal", "bandPosition": 1, "scale": {"domain": ["Enhancers", "Promoters"], "range": [495, 742], "paddingInner": 0, "paddingOuter": 0.038}, "axis": null},
    "y": {"field": "m", "type": "quantitative", "scale": {"type": "log", "domain": [0.631, 11220], "range": [667, 455], "nice": false}, "axis": null},
    "text": {"field": "label"}
   }},
  {"data": {"values": [{"m": 34700, "label": "Total GRO-cap reads"}]},
   "mark": {"type": "text", "fontSize": 20, "fontWeight": "bold", "baseline": "alphabetic", "align": "center", "color": "black"},
   "encoding": {
    "x": {"datum": "Enhancers", "type": "nominal", "bandPosition": 1, "scale": {"domain": ["Enhancers", "Promoters"], "range": [495, 742], "paddingInner": 0, "paddingOuter": 0.038}, "axis": null},
    "y": {"field": "m", "type": "quantitative", "scale": {"type": "log", "domain": [0.631, 11220], "range": [667, 455], "nice": false}, "axis": null},
    "text": {"field": "label"}
   }},
  {"data": {"values": [{"m": 50100, "label": "e"}]},
   "mark": {"type": "text", "fontSize": 36, "fontWeight": "bold", "baseline": "alphabetic", "align": "left", "dx": -46, "color": "black"},
   "encoding": {
    "x": {"datum": "Enhancers", "type": "nominal", "bandPosition": 0, "scale": {"domain": ["Enhancers", "Promoters"], "range": [495, 742], "paddingInner": 0, "paddingOuter": 0.038}, "axis": null},
    "y": {"field": "m", "type": "quantitative", "scale": {"type": "log", "domain": [0.631, 11220], "range": [667, 455], "nice": false}, "axis": null},
    "text": {"field": "label"}
   }}
 ],
 "resolve": {"axis": {"x": "independent", "y": "independent"}}
},
{
 "layer": [
  {"data": {"values": [{"m": 6.86}]},
   "mark": {"type": "rule", "color": "#8c8c8c", "strokeWidth": 2},
   "encoding": {
    "x": {"datum": "Enhancers", "type": "nominal", "bandPosition": 0.5, "scale": {"domain": ["Enhancers", "Promoters"], "range": [830, 1034], "paddingInner": 0, "paddingOuter": 0.085},
          "axis": {"orient": "bottom", "offset": -63, "domain": false, "ticks": false, "labelAngle": 0, "labelPadding": 33, "labelFontSize": 20, "labelExpr": "datum.value == 'Enhancers' ? 'n = 52' : 'n = 51'", "title": null,
                   "labelOffset": {"condition": {"test": "datum.value === 'Enhancers'", "value": -10}, "value": 10}}},
    "x2": {"datum": "Promoters", "bandPosition": 0.5},
    "y": {"field": "m", "type": "quantitative", "scale": {"domain": [-0.35, 7.25], "range": [665, 447], "nice": false, "zero": false}, "axis": null}
   }},
  {"data": {"values": [
    {"g":"Enhancers","v":6.05,"s":0},{"g":"Enhancers","v":4.71,"s":0},{"g":"Enhancers","v":4.31,"s":0},
    {"g":"Enhancers","v":3.9,"s":-0.5},{"g":"Enhancers","v":3.9,"s":0.5},
    {"g":"Enhancers","v":3.16,"s":-0.5},{"g":"Enhancers","v":3.16,"s":0.5},
    {"g":"Enhancers","v":2.76,"s":0},{"g":"Enhancers","v":2.32,"s":0},
    {"g":"Enhancers","v":2.02,"s":-1},{"g":"Enhancers","v":2.02,"s":0},{"g":"Enhancers","v":2.02,"s":1},
    {"g":"Enhancers","v":1.65,"s":-4},{"g":"Enhancers","v":1.65,"s":-3},{"g":"Enhancers","v":1.65,"s":-2},{"g":"Enhancers","v":1.65,"s":-1},{"g":"Enhancers","v":1.65,"s":0},
    {"g":"Enhancers","v":1.65,"s":1},{"g":"Enhancers","v":1.65,"s":2},{"g":"Enhancers","v":1.65,"s":3},{"g":"Enhancers","v":1.65,"s":4},
    {"g":"Enhancers","v":1.33,"s":-3.5},{"g":"Enhancers","v":1.33,"s":-2.5},{"g":"Enhancers","v":1.33,"s":-1.5},{"g":"Enhancers","v":1.33,"s":-0.5},
    {"g":"Enhancers","v":1.33,"s":0.5},{"g":"Enhancers","v":1.33,"s":1.5},{"g":"Enhancers","v":1.33,"s":2.5},{"g":"Enhancers","v":1.33,"s":3.5},
    {"g":"Enhancers","v":1.03,"s":-2.5},{"g":"Enhancers","v":1.03,"s":-1.5},{"g":"Enhancers","v":1.03,"s":-0.5},{"g":"Enhancers","v":1.03,"s":0.5},{"g":"Enhancers","v":1.03,"s":1.5},{"g":"Enhancers","v":1.03,"s":2.5},
    {"g":"Enhancers","v":0.72,"s":-2},{"g":"Enhancers","v":0.72,"s":-1},{"g":"Enhancers","v":0.72,"s":0},{"g":"Enhancers","v":0.72,"s":1},{"g":"Enhancers","v":0.72,"s":2},
    {"g":"Enhancers","v":0.15,"s":-3},{"g":"Enhancers","v":0.15,"s":-2},{"g":"Enhancers","v":0.15,"s":-1},{"g":"Enhancers","v":0.15,"s":0},{"g":"Enhancers","v":0.15,"s":1},{"g":"Enhancers","v":0.15,"s":2},{"g":"Enhancers","v":0.15,"s":3},
    {"g":"Promoters","v":6.13,"s":-0.5},{"g":"Promoters","v":6.13,"s":0.5},
    {"g":"Promoters","v":5.72,"s":0},{"g":"Promoters","v":4.66,"s":0},
    {"g":"Promoters","v":4.1,"s":-0.5},{"g":"Promoters","v":4.1,"s":0.5},
    {"g":"Promoters","v":3.45,"s":-0.5},{"g":"Promoters","v":3.45,"s":0.5},
    {"g":"Promoters","v":3.13,"s":-1},{"g":"Promoters","v":3.13,"s":0},{"g":"Promoters","v":3.13,"s":1},
    {"g":"Promoters","v":2.86,"s":-1.5},{"g":"Promoters","v":2.86,"s":-0.5},{"g":"Promoters","v":2.86,"s":0.5},{"g":"Promoters","v":2.86,"s":1.5},
    {"g":"Promoters","v":2.53,"s":-2.5},{"g":"Promoters","v":2.53,"s":-1.5},{"g":"Promoters","v":2.53,"s":-0.5},{"g":"Promoters","v":2.53,"s":0.5},{"g":"Promoters","v":2.53,"s":1.5},{"g":"Promoters","v":2.53,"s":2.5},
    {"g":"Promoters","v":2.23,"s":-2},{"g":"Promoters","v":2.23,"s":-1},{"g":"Promoters","v":2.23,"s":0},{"g":"Promoters","v":2.23,"s":1},{"g":"Promoters","v":2.23,"s":2},
    {"g":"Promoters","v":1.93,"s":-1.5},{"g":"Promoters","v":1.93,"s":-0.5},{"g":"Promoters","v":1.93,"s":0.5},{"g":"Promoters","v":1.93,"s":1.5},
    {"g":"Promoters","v":1.58,"s":-1},{"g":"Promoters","v":1.58,"s":0},{"g":"Promoters","v":1.58,"s":1},
    {"g":"Promoters","v":1.28,"s":-2},{"g":"Promoters","v":1.28,"s":-1},{"g":"Promoters","v":1.28,"s":1},{"g":"Promoters","v":1.28,"s":2},
    {"g":"Promoters","v":1.05,"s":0},
    {"g":"Promoters","v":0.75,"s":-2},{"g":"Promoters","v":0.75,"s":-1},{"g":"Promoters","v":0.75,"s":0},{"g":"Promoters","v":0.75,"s":1},{"g":"Promoters","v":0.75,"s":2},
    {"g":"Promoters","v":0.46,"s":-2.5},{"g":"Promoters","v":0.46,"s":-1.5},{"g":"Promoters","v":0.46,"s":-0.5},{"g":"Promoters","v":0.46,"s":0.5},{"g":"Promoters","v":0.46,"s":1.5},{"g":"Promoters","v":0.46,"s":2.5},
    {"g":"Promoters","v":0.17,"s":-1.5},{"g":"Promoters","v":0.17,"s":-0.5},{"g":"Promoters","v":0.17,"s":0.5},{"g":"Promoters","v":0.17,"s":1.5}
   ]},
   "mark": {"type": "circle", "size": 18, "color": "black", "opacity": 1},
   "encoding": {
    "x": {"field": "g", "type": "nominal", "scale": {"domain": ["Enhancers", "Promoters"], "range": [830, 1034], "paddingInner": 0, "paddingOuter": 0.085},
          "axis": {"orient": "bottom", "offset": -63, "labelAngle": 0, "labelFontWeight": "bold", "labelFontSize": 20, "labelPadding": 2, "title": null,
                   "labelOffset": {"condition": {"test": "datum.value === 'Enhancers'", "value": -10}, "value": 10}}},
    "xOffset": {"field": "s", "type": "ordinal", "scale": {"domain": [-4,-3.5,-3,-2.5,-2,-1.5,-1,-0.5,0,0.5,1,1.5,2,2.5,3,3.5,4], "paddingInner": 0, "paddingOuter": 0}},
    "y": {"field": "v", "type": "quantitative", "scale": {"domain": [-0.35, 7.25], "range": [665, 447], "nice": false, "zero": false},
          "axis": {"orient": "left", "offset": -830, "values": [0, 2, 4, 6], "title": "maxTSS / minTSS", "titlePadding": 8}}
   }},
  {"data": {"values": [{"m": 7.15, "label": "p=0.064"}]},
   "mark": {"type": "text", "fontSize": 19, "baseline": "middle", "align": "center", "color": "#8c8c8c"},
   "encoding": {
    "x": {"datum": "Enhancers", "type": "nominal", "bandPosition": 1, "scale": {"domain": ["Enhancers", "Promoters"], "range": [830, 1034], "paddingInner": 0, "paddingOuter": 0.085}, "axis": null},
    "y": {"field": "m", "type": "quantitative", "scale": {"domain": [-0.35, 7.25], "range": [665, 447], "nice": false, "zero": false}, "axis": null},
    "text": {"field": "label"}
   }},
  {"data": {"values": [{"m": 7.84, "label": "Directionality index"}]},
   "mark": {"type": "text", "fontSize": 20, "fontWeight": "bold", "baseline": "alphabetic", "align": "center", "color": "black"},
   "encoding": {
    "x": {"datum": "Enhancers", "type": "nominal", "bandPosition": 1, "scale": {"domain": ["Enhancers", "Promoters"], "range": [830, 1034], "paddingInner": 0, "paddingOuter": 0.085}, "axis": null},
    "y": {"field": "m", "type": "quantitative", "scale": {"domain": [-0.35, 7.25], "range": [665, 447], "nice": false, "zero": false}, "axis": null},
    "text": {"field": "label"}
   }},
  {"data": {"values": [{"m": 7.91, "label": "f"}]},
   "mark": {"type": "text", "fontSize": 36, "fontWeight": "bold", "baseline": "alphabetic", "align": "left", "dx": -68, "color": "black"},
   "encoding": {
    "x": {"datum": "Enhancers", "type": "nominal", "bandPosition": 0, "scale": {"domain": ["Enhancers", "Promoters"], "range": [830, 1034], "paddingInner": 0, "paddingOuter": 0.085}, "axis": null},
    "y": {"field": "m", "type": "quantitative", "scale": {"domain": [-0.35, 7.25], "range": [665, 447], "nice": false, "zero": false}, "axis": null},
    "text": {"field": "label"}
   }}
 ],
 "resolve": {"axis": {"x": "independent", "y": "independent"}}
}
]
}
